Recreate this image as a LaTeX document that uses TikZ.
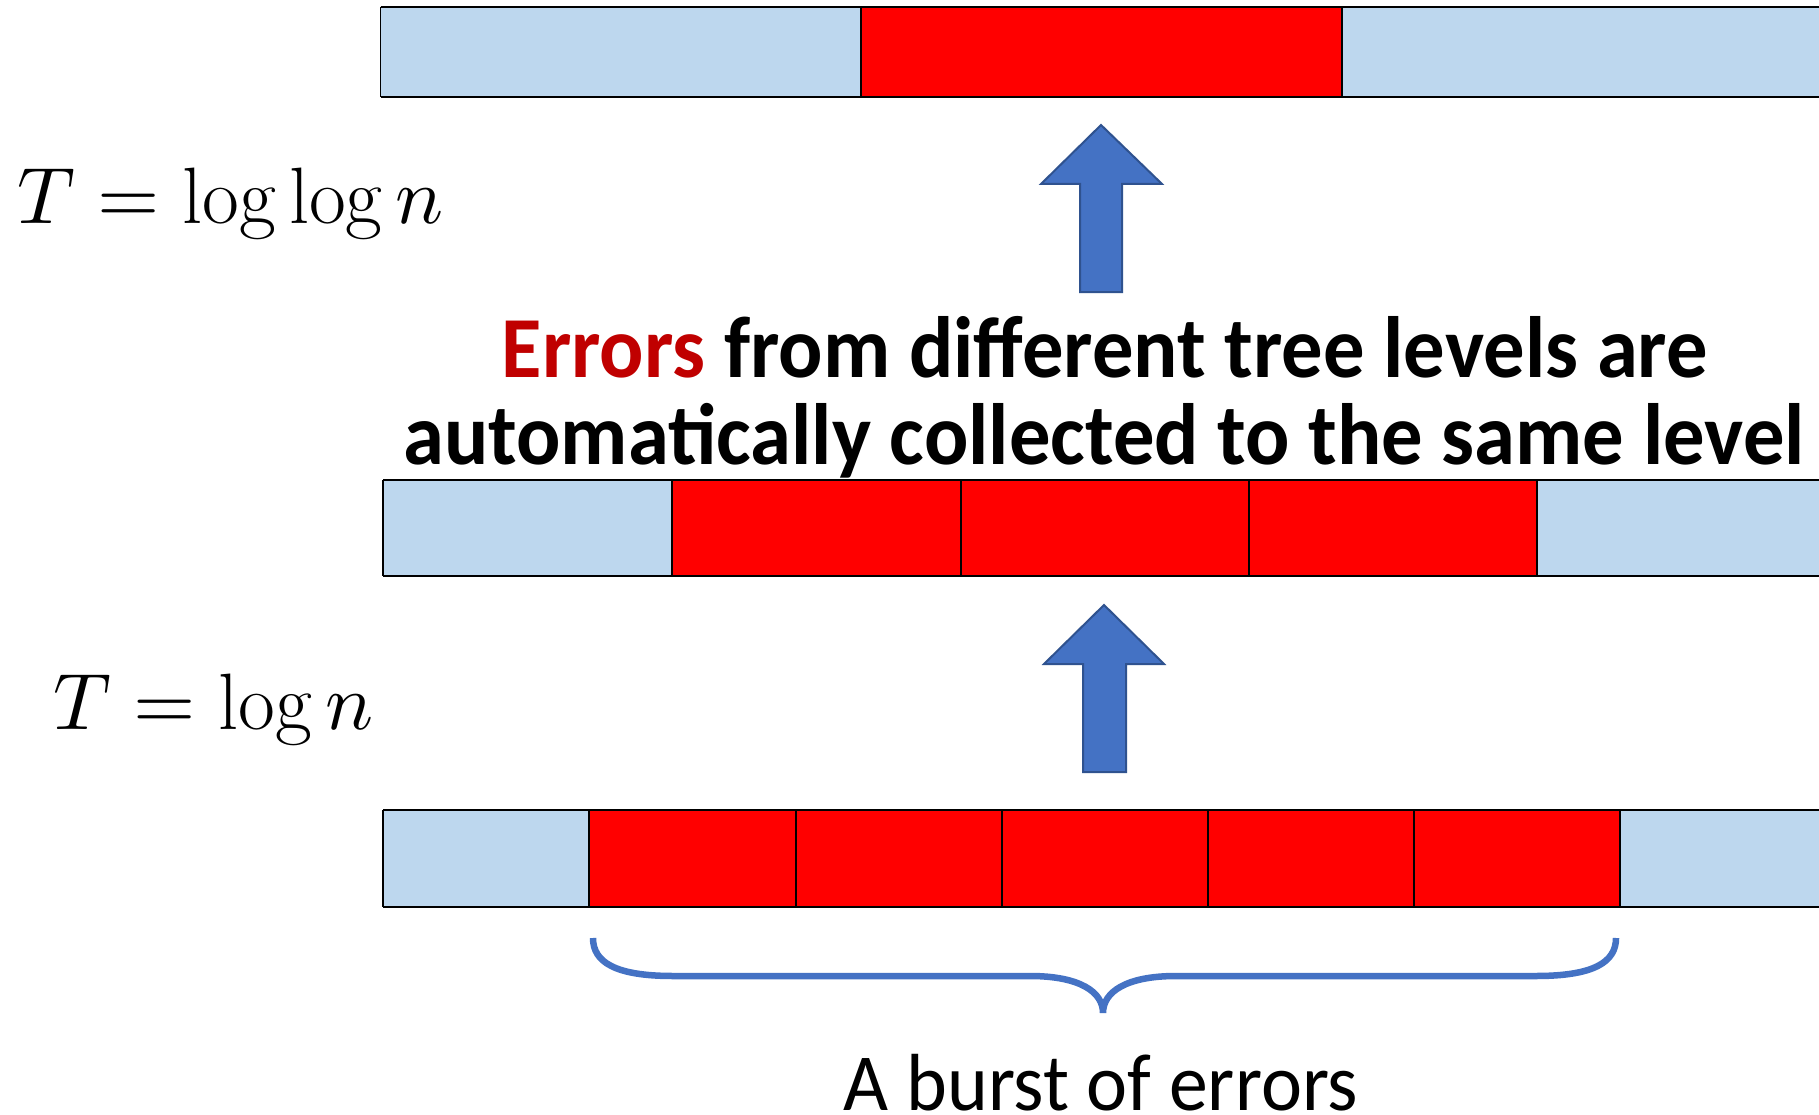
\documentclass[tikz,border=0pt]{standalone}
\usepackage{fontspec}
\usepackage{unicode-math}
\newfontfamily\headfont[FakeStretch=0.95]{Carlito}
\newfontfamily\bodyfont[FakeStretch=0.96]{Carlito}
\definecolor{cellblue}{HTML}{BDD7EE}
\definecolor{cellred}{HTML}{FF0000}
\definecolor{errred}{HTML}{C00000}
\definecolor{arrowfill}{HTML}{4472C4}
\definecolor{arrowline}{HTML}{2F528F}
\tikzset{
  bluecell/.style={fill=cellblue},
  redcell/.style={fill=cellred},
  divider/.style={draw=black,line width=1.2pt},
  edge/.style={draw=black,line width=2.6pt},
  blockarrow/.style={fill=arrowfill,draw=arrowline,line width=2pt,line join=miter},
  bracestyle/.style={draw=arrowfill,line width=6.5pt},
  headtext/.style={anchor=base,inner sep=0pt,font=\headfont\bfseries\fontsize{87}{87}\selectfont},
  mathtext/.style={anchor=base west,inner sep=0pt,font=\fontsize{80}{80}\selectfont},
}
\begin{document}
\begin{tikzpicture}[x=1pt,y=-1pt]
\useasboundingbox (0,0) rectangle (1819,1115);
\fill[white] (0,0) rectangle (1819,1115);

% ---- top bar ----
\fill[bluecell] (380.5,7) rectangle (861,97);
\fill[redcell] (861,7) rectangle (1342,97);
\fill[bluecell] (1342,7) rectangle (1819,97);
\draw[divider] (380.5,7) -- (380.5,97);
\draw[divider] (861,7) -- (861,97);
\draw[divider] (1342,7) -- (1342,97);
\draw[edge] (380.5,7) -- (1819,7);
\draw[edge] (380.5,97) -- (1819,97);

% ---- middle bar ----
\fill[bluecell] (383,480) rectangle (672,576);
\fill[redcell] (672,480) rectangle (1537,576);
\fill[bluecell] (1537,480) rectangle (1819,576);
\foreach \x in {383,672,961,1249,1537}{\draw[divider] (\x,480) -- (\x,576);}
\draw[edge] (383,480) -- (1819,480);
\draw[edge] (383,576) -- (1819,576);

% ---- bottom bar ----
\fill[bluecell] (383,810) rectangle (589,907);
\fill[redcell] (589,810) rectangle (1620,907);
\fill[bluecell] (1620,810) rectangle (1819,907);
\foreach \x in {383,589,796,1002,1208,1414,1620}{\draw[divider] (\x,810) -- (\x,907);}
\draw[edge] (383,810) -- (1819,810);
\draw[edge] (383,907) -- (1819,907);

% ---- block arrows ----
\draw[blockarrow] (1101,125) -- (1162,184) -- (1122,184) -- (1122,292) -- (1080,292) -- (1080,184) -- (1041,184) -- cycle;
\draw[blockarrow] (1104,605) -- (1164,664) -- (1126,664) -- (1126,772) -- (1083,772) -- (1083,664) -- (1044,664) -- cycle;

% ---- brace ----
\draw[bracestyle] (593,938) .. controls (593,962) and (615,976) .. (673,976) -- (1030,976)
  .. controls (1080,976) and (1103,992) .. (1103,1013)
  .. controls (1103,992) and (1126,976) .. (1176,976) -- (1536,976)
  .. controls (1594,976) and (1616,962) .. (1616,938);

% ---- texts ----
\node[mathtext] (tloglog) at (17,224) {$T=\log\log n$};
\node[mathtext] (tlog) at (53,729) {$T=\log n$};
\node[headtext] (line1) at (1105,377) {\textcolor{errred}{Errors} from different tree levels are};
\node[headtext] (line2) at (1104,464) {automatically collected to the same level};
\node[anchor=base,inner sep=0pt,text depth=0pt,font=\bodyfont\fontsize{81}{81}\selectfont] (burst) at (1101,1110) {A burst of errors};
\end{tikzpicture}
\end{document}
